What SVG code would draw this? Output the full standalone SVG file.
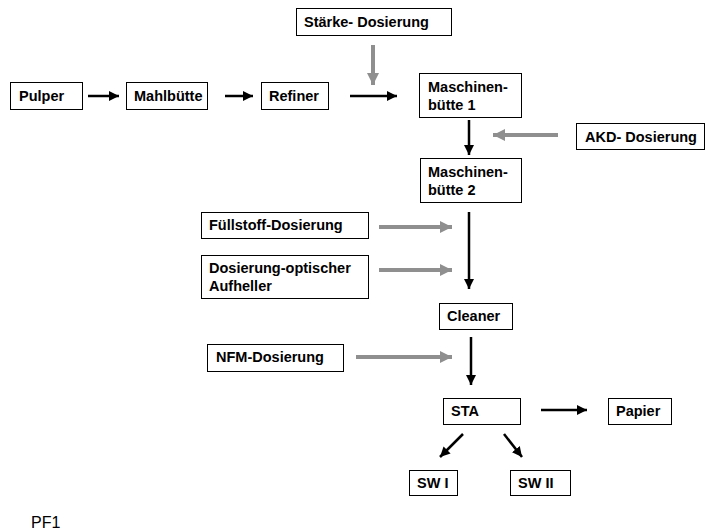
<svg xmlns="http://www.w3.org/2000/svg" width="706" height="531" viewBox="0 0 706 531">
<defs>
<style>
rect.box{fill:#fff;stroke:#000;stroke-width:1}
text{font-family:"Liberation Sans",Arial,sans-serif;font-weight:bold;font-size:14.5px;fill:#000}
text.plain{font-weight:normal;font-size:16px}
.blk{stroke:#000;stroke-width:2.5;fill:none;marker-end:url(#hb)}
.gry{stroke:#8f8f8f;stroke-width:4;fill:none;marker-end:url(#hg)}
</style>
<marker id="hb" markerUnits="userSpaceOnUse" markerWidth="12" markerHeight="10" refX="10" refY="5" orient="auto">
<path d="M0,0 L10,5 L0,10 Z" fill="#000"/>
</marker>
<marker id="hg" markerUnits="userSpaceOnUse" markerWidth="14" markerHeight="14" refX="12" refY="6" orient="auto">
<path d="M0,0 L12,6 L0,12 Z" fill="#8f8f8f"/>
</marker>
</defs>
<rect width="706" height="531" fill="#fff"/>
<g id="connectors">
<line class="blk" x1="88" y1="96" x2="119" y2="96"/>
<line class="blk" x1="225" y1="96" x2="253" y2="96"/>
<line class="blk" x1="350" y1="96" x2="397" y2="96"/>
<line class="gry" x1="373" y1="45" x2="373" y2="85"/>
<line class="blk" x1="469" y1="120" x2="469" y2="155"/>
<line class="gry" x1="558" y1="135" x2="493" y2="135"/>
<line class="gry" x1="379" y1="227" x2="452" y2="227"/>
<line class="gry" x1="379" y1="270" x2="452" y2="270"/>
<line class="blk" x1="469" y1="212" x2="469" y2="289"/>
<line class="gry" x1="356" y1="357" x2="452" y2="357"/>
<line class="blk" x1="471" y1="337" x2="471" y2="385"/>
<line class="blk" x1="541" y1="410" x2="587" y2="410"/>
<line class="blk" x1="463" y1="434" x2="440" y2="457"/>
<line class="blk" x1="504" y1="434" x2="522" y2="457"/>
</g>
<g id="pulper"><rect class="box" x="10.5" y="82.5" width="72" height="27"/><text x="19" y="101">Pulper</text></g>
<g id="mahlbuette"><rect class="box" x="126.5" y="82.5" width="81" height="27"/><text x="134" y="101">Mahlbütte</text></g>
<g id="refiner"><rect class="box" x="261.5" y="82.5" width="67" height="27"/><text x="269" y="101">Refiner</text></g>
<g id="staerke"><rect class="box" x="296.5" y="8.5" width="155" height="27"/><text x="304" y="27">Stärke- Dosierung</text></g>
<g id="mb1"><rect class="box" x="419.5" y="73.5" width="102" height="44"/><text x="428" y="92">Maschinen-</text><text x="428" y="110">bütte 1</text></g>
<g id="akd"><rect class="box" x="576.5" y="123.5" width="128" height="26"/><text x="585" y="142">AKD- Dosierung</text></g>
<g id="mb2"><rect class="box" x="420.5" y="158.5" width="101" height="44"/><text x="428" y="177">Maschinen-</text><text x="428" y="195">bütte 2</text></g>
<g id="fuellstoff"><rect class="box" x="201.5" y="212.5" width="167" height="26"/><text x="209" y="230">Füllstoff-Dosierung</text></g>
<g id="optisch"><rect class="box" x="201.5" y="255.5" width="167" height="43"/><text x="209" y="273">Dosierung-optischer</text><text x="209" y="291">Aufheller</text></g>
<g id="cleaner"><rect class="box" x="439.5" y="303.5" width="73" height="26"/><text x="447" y="321">Cleaner</text></g>
<g id="nfm"><rect class="box" x="207.5" y="344.5" width="136" height="27"/><text x="216" y="362">NFM-Dosierung</text></g>
<g id="sta"><rect class="box" x="443.5" y="398.5" width="77" height="26"/><text x="451" y="416">STA</text></g>
<g id="papier"><rect class="box" x="608.5" y="398.5" width="63" height="26"/><text x="616" y="416">Papier</text></g>
<g id="sw1"><rect class="box" x="409.5" y="470.5" width="48" height="25"/><text x="417" y="488">SW I</text></g>
<g id="sw2"><rect class="box" x="510.5" y="470.5" width="60" height="25"/><text x="518" y="488">SW II</text></g>
<text class="plain" x="31" y="528">PF1</text>
</svg>
